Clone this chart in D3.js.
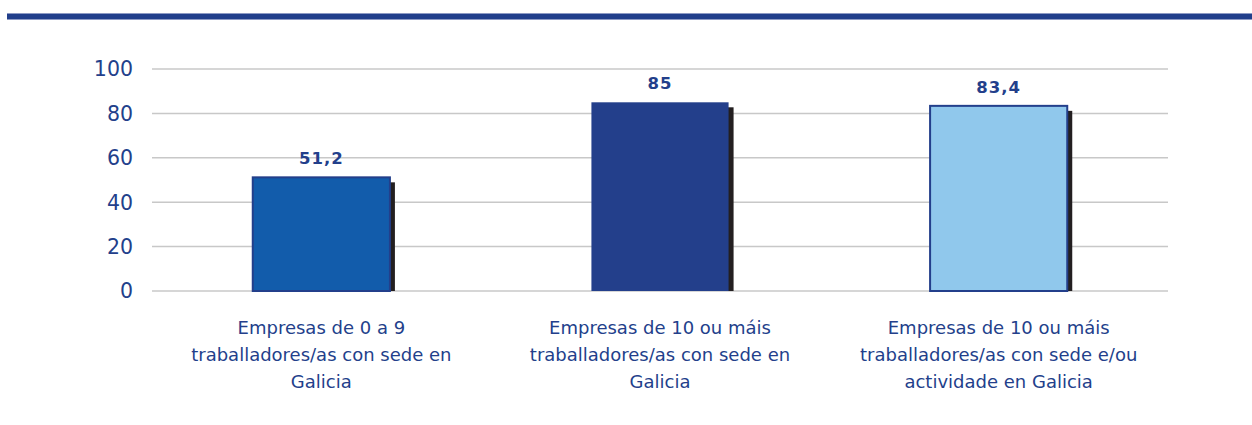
<!DOCTYPE html>
<html>
<head>
<meta charset="utf-8">
<script src="https://cdn.jsdelivr.net/npm/d3@7"></script>
<style>
  body { margin: 0; background: #fff; }
  text { font-family: "DejaVu Sans", Verdana, sans-serif; }
</style>
</head>
<body>
<div id="chart"></div>
<script>
// categorías e valores
const categories = [
  ["Empresas de 0 a 9", "traballadores/as con sede en", "Galicia"],
  ["Empresas de 10 ou máis", "traballadores/as con sede en", "Galicia"],
  ["Empresas de 10 ou máis", "traballadores/as con sede e/ou", "actividade en Galicia"]
];
const values = [51.2, 85, 83.4];
const valueLabels = ["51,2", "85", "83,4"];
const yTicks = [0, 20, 40, 60, 80, 100];
const fills = ["#125cab", "#233f8b", "#90c8ec"];

const width = 1252, height = 425;
const margin = { top: 69, right: 84, bottom: 134, left: 152 };
const innerW = width - margin.left - margin.right;
const innerH = height - margin.top - margin.bottom;
const textColor = "#233f8b";

const svg = d3.select("#chart").append("svg").attr("width", width).attr("height", height);

// banda superior
svg.append("rect").attr("x", 7).attr("y", 13).attr("width", width - 7).attr("height", 7).attr("fill", "#8d9ac4");
svg.append("rect").attr("x", 7).attr("y", 14).attr("width", width - 7).attr("height", 5).attr("fill", "#213f8b");

const g = svg.append("g").attr("transform", "translate(" + margin.left + "," + margin.top + ")");

const x = d3.scaleBand().domain(d3.range(values.length)).range([0, innerW]).paddingInner(0.595).paddingOuter(0.2975);
const y = d3.scaleLinear().domain([0, 100]).range([innerH, 0]);

// liñas de grella
g.selectAll(".grid").data(yTicks).enter().append("line")
  .attr("x1", 0).attr("x2", innerW)
  .attr("y1", d => y(d)).attr("y2", d => y(d))
  .attr("stroke", "#c8c8c8").attr("stroke-width", 1.5);

// etiquetas eixo Y
g.selectAll(".ytick").data(yTicks).enter().append("text")
  .attr("x", -19).attr("y", d => y(d)).attr("dy", "0.36em")
  .attr("text-anchor", "end").attr("fill", textColor)
  .attr("font-size", 20.5).text(d => d);

// sombra
g.selectAll(".shadow").data(values).enter().append("rect")
  .attr("x", (d, i) => x(i) + 5).attr("y", d => y(d) + 5)
  .attr("width", x.bandwidth()).attr("height", d => innerH - y(d) - 5)
  .attr("fill", "#231f20");

// barras
g.selectAll(".bar").data(values).enter().append("rect")
  .attr("x", (d, i) => x(i)).attr("y", d => y(d))
  .attr("width", x.bandwidth()).attr("height", d => innerH - y(d))
  .attr("fill", (d, i) => fills[i])
  .attr("stroke", "#233f8b").attr("stroke-width", (d, i) => i === 1 ? 0 : 2);

// valores
g.selectAll(".val").data(values).enter().append("text")
  .attr("x", (d, i) => x(i) + x.bandwidth() / 2).attr("y", d => y(d) - 13)
  .attr("text-anchor", "middle").attr("fill", textColor)
  .attr("font-size", 16.5).attr("font-weight", "bold").attr("letter-spacing", 1)
  .text((d, i) => valueLabels[i]);

// etiquetas de categoría
categories.forEach((lines, i) => {
  const t = g.append("text")
    .attr("x", x(i) + x.bandwidth() / 2).attr("y", innerH + 43)
    .attr("text-anchor", "middle").attr("fill", textColor).attr("font-size", 18);
  lines.forEach((l, j) => {
    t.append("tspan").attr("x", x(i) + x.bandwidth() / 2).attr("dy", j === 0 ? 0 : 27).text(l);
  });
});
</script>
</body>
</html>
